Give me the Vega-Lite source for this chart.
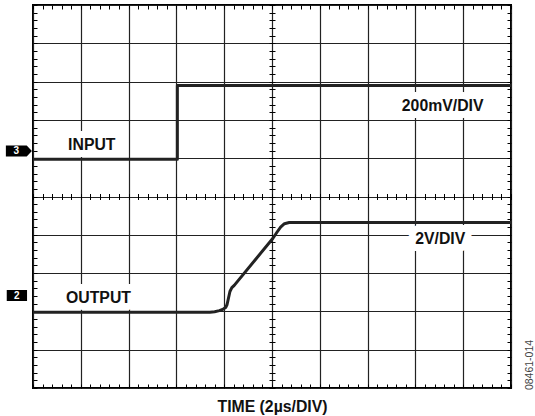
{
  "$schema": "https://vega.github.io/schema/vega-lite/v6.json",
  "width": 478,
  "height": 383,
  "autosize": "none",
  "padding": {"left": 33, "top": 5, "right": 24, "bottom": 28},
  "background": "white",
  "config": {
    "view": {"stroke": "#000", "strokeWidth": 2},
    "font": "Liberation Sans"
  },
  "datasets": {
    "traces": [
      {"series": "input", "i": 1, "t": 0, "v": 5.97},
      {"series": "input", "i": 2, "t": 3.02, "v": 5.97},
      {"series": "input", "i": 3, "t": 3.02, "v": 7.9},
      {"series": "input", "i": 4, "t": 10, "v": 7.9},
      {"series": "output", "i": 1, "t": 0, "v": 1.98},
      {"series": "output", "i": 2, "t": 3.7, "v": 1.98},
      {"series": "output", "i": 3, "t": 3.8, "v": 1.99},
      {"series": "output", "i": 4, "t": 3.9, "v": 2.02},
      {"series": "output", "i": 5, "t": 3.98, "v": 2.06},
      {"series": "output", "i": 6, "t": 4.03, "v": 2.1},
      {"series": "output", "i": 7, "t": 4.06, "v": 2.18},
      {"series": "output", "i": 8, "t": 4.09, "v": 2.35},
      {"series": "output", "i": 9, "t": 4.12, "v": 2.52},
      {"series": "output", "i": 10, "t": 4.16, "v": 2.62},
      {"series": "output", "i": 11, "t": 4.21, "v": 2.68},
      {"series": "output", "i": 12, "t": 5.02, "v": 3.91},
      {"series": "output", "i": 13, "t": 5.1, "v": 4.06},
      {"series": "output", "i": 14, "t": 5.18, "v": 4.2},
      {"series": "output", "i": 15, "t": 5.26, "v": 4.29},
      {"series": "output", "i": 16, "t": 5.36, "v": 4.32},
      {"series": "output", "i": 17, "t": 10, "v": 4.32}
    ],
    "labels": [
      {"label": "INPUT", "x": 1.23, "y": 6.34},
      {"label": "OUTPUT", "x": 1.37, "y": 2.34},
      {"label": "200mV/DIV", "x": 8.57, "y": 7.36},
      {"label": "2V/DIV", "x": 8.52, "y": 3.88}
    ],
    "markers": [
      {"ch": "3", "mx": -0.295, "my": 6.19, "tx": -0.349},
      {"ch": "2", "mx": -0.337, "my": 2.415, "tx": -0.337}
    ]
  },
  "layer": [
    {
      "data": {"name": "labels"},
      "mark": {"type": "text", "font": "Liberation Sans", "fontWeight": "bold", "fontSize": 15.8, "align": "center", "baseline": "middle", "fill": "white", "stroke": "white", "strokeWidth": 14, "strokeJoin": "round"},
      "encoding": {
        "x": {"field": "x", "type": "quantitative", "scale": {"domain": [0, 10], "nice": false, "zero": false},
          "axis": {"orient": "top", "tickCount": 50, "tickSize": -4, "tickColor": "#000", "tickWidth": 1, "labels": false, "domain": false, "grid": false, "title": null}},
        "y": {"field": "y", "type": "quantitative", "scale": {"domain": [0, 10], "nice": false, "zero": false},
          "axis": {"orient": "right", "tickCount": 50, "tickSize": -4, "tickColor": "#000", "tickWidth": 1, "labels": false, "domain": false, "grid": false,
            "title": "08461-014", "titleAngle": 270, "titleX": 18, "titleY": 359.5, "titleAlign": "center", "titleBaseline": "middle", "titleFontSize": 10.5, "titleFontWeight": "normal", "titleColor": "#444", "titleFont": "Liberation Sans"}},
        "text": {"field": "label"}
      }
    },
    {
      "data": {"name": "traces"},
      "mark": {"type": "line", "strokeWidth": 3, "color": "#222", "strokeJoin": "round", "strokeCap": "butt"},
      "encoding": {
        "x": {"field": "t", "type": "quantitative", "scale": {"domain": [0, 10], "nice": false, "zero": false},
          "axis": {"orient": "bottom", "tickCount": 50, "tickSize": -4, "tickColor": "#000", "tickWidth": 1, "labels": false, "domain": false,
            "grid": true, "gridColor": "#222", "gridWidth": 1.2,
            "gridOpacity": {"condition": {"test": "abs(datum.value - round(datum.value)) < 0.001", "value": 1}, "value": 0},
            "title": "TIME (2µs/DIV)", "titleFont": "Liberation Sans", "titleFontSize": 15.8, "titleFontWeight": "bold", "titleColor": "#111", "titleY": 23, "titleBaseline": "alphabetic"}},
        "y": {"field": "v", "type": "quantitative", "scale": {"domain": [0, 10], "nice": false, "zero": false},
          "axis": {"orient": "left", "tickCount": 50, "tickSize": -4, "tickColor": "#000", "tickWidth": 1, "labels": false, "domain": false,
            "grid": true, "gridColor": "#222", "gridWidth": 1.2,
            "gridOpacity": {"condition": {"test": "abs(datum.value - round(datum.value)) < 0.001", "value": 1}, "value": 0},
            "title": null}},
        "detail": {"field": "series"},
        "order": {"field": "i", "type": "quantitative"}
      }
    },
    {
      "data": {"name": "labels"},
      "mark": {"type": "text", "font": "Liberation Sans", "fontWeight": "bold", "fontSize": 15.8, "align": "center", "baseline": "middle", "color": "#111"},
      "encoding": {
        "x": {"field": "x", "type": "quantitative", "scale": {"domain": [0, 10], "nice": false, "zero": false}, "axis": null},
        "y": {"field": "y", "type": "quantitative", "scale": {"domain": [0, 10], "nice": false, "zero": false}, "axis": null},
        "text": {"field": "label"}
      }
    },
    {
      "data": {"name": "markers"},
      "mark": {"type": "point", "filled": true, "color": "#000", "opacity": 1, "strokeWidth": 0},
      "encoding": {
        "x": {"field": "mx", "type": "quantitative", "scale": {"domain": [0, 10], "nice": false, "zero": false},
          "axis": {"orient": "bottom", "offset": -194.5, "tickCount": 50, "tickSize": 6, "tickColor": "#000", "tickWidth": 1, "labels": false, "domain": false, "grid": false, "title": null}},
        "y": {"field": "my", "type": "quantitative", "scale": {"domain": [0, 10], "nice": false, "zero": false},
          "axis": {"orient": "left", "offset": -242, "tickCount": 50, "tickSize": 6, "tickColor": "#000", "tickWidth": 1, "labels": false, "domain": false, "grid": false, "title": null}},
        "shape": {"condition": {"test": "datum.ch === '3'", "value": "M-1,-0.42L0.6,-0.42L1,0L0.6,0.42L-1,0.42Z"}, "value": "M-1,-0.54L1,-0.54L1,0.54L-1,0.54Z"},
        "size": {"condition": {"test": "datum.ch === '3'", "value": 676}, "value": 412}
      }
    },
    {
      "data": {"name": "markers"},
      "mark": {"type": "text", "font": "Liberation Sans", "fontWeight": "bold", "fontSize": 10, "align": "center", "baseline": "middle", "color": "white"},
      "encoding": {
        "x": {"field": "tx", "type": "quantitative", "scale": {"domain": [0, 10], "nice": false, "zero": false}, "axis": null},
        "y": {"field": "my", "type": "quantitative", "scale": {"domain": [0, 10], "nice": false, "zero": false}, "axis": null},
        "text": {"field": "ch"}
      }
    }
  ],
  "resolve": {"axis": {"x": "independent", "y": "independent"}}
}
